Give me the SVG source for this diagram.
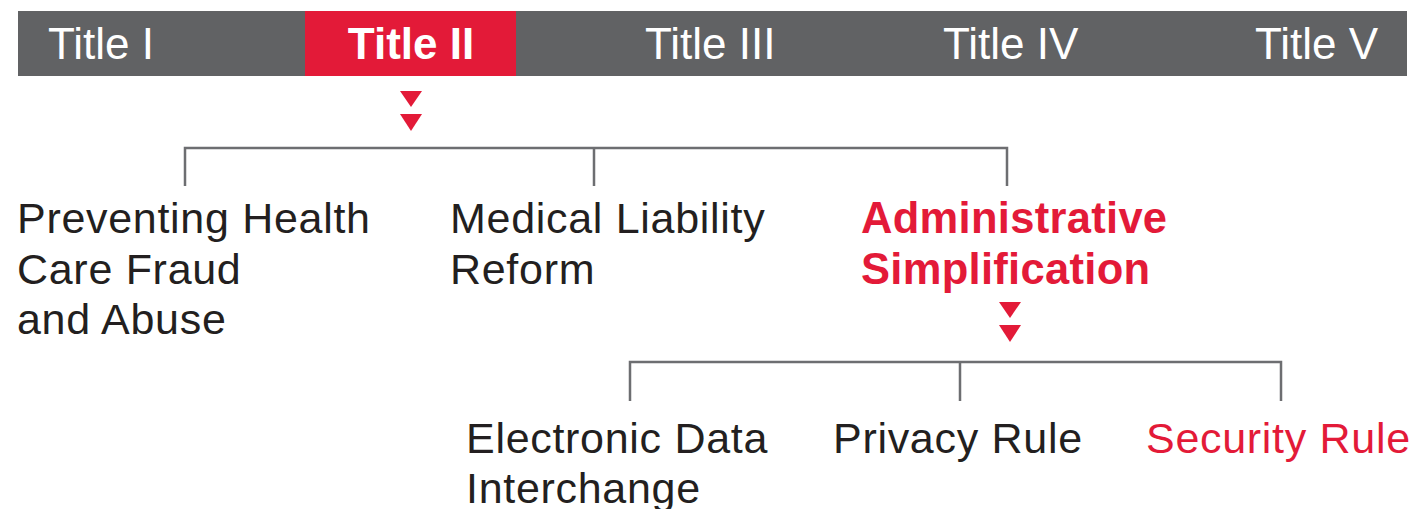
<svg xmlns="http://www.w3.org/2000/svg" width="1413" height="509" viewBox="0 0 1413 509">
<style>
.t{font-family:"Liberation Sans",Arial,sans-serif;font-size:44px;fill:#ffffff}
.tb{font-weight:bold}
.n{font-family:"Liberation Sans",Arial,sans-serif;font-size:43px;fill:#231f20;letter-spacing:0.7px}
.r{fill:#e31a38}
.hb{font-weight:bold;font-size:43.5px;letter-spacing:0.3px}
.c{fill:none;stroke:#6d6e71;stroke-width:2.5}
.tri{fill:#e31a38}
</style>
<rect x="0" y="0" width="1413" height="509" fill="#ffffff"/>
<g id="title-bar">
  <rect x="18" y="11" width="1389" height="65" fill="#616264"/>
  <rect x="305" y="11" width="211" height="65" fill="#e31a38"/>
</g>
<g id="title-1"><text class="t" x="48" y="59">Title I</text></g>
<g id="title-2"><text class="t tb" x="411" y="59" text-anchor="middle">Title II</text></g>
<g id="title-3"><text class="t" x="645" y="59">Title III</text></g>
<g id="title-4"><text class="t" x="943" y="59">Title IV</text></g>
<g id="title-5"><text class="t" x="1255" y="59">Title V</text></g>
<g id="connectors">
  <polygon class="tri" points="400,91 422,91 411,107"/>
  <polygon class="tri" points="400,114 422,114 411,131"/>
  <path class="c" d="M185,186 V148 H1007 V186 M594,148 V186"/>
  <polygon class="tri" points="999,302 1021,302 1010,318"/>
  <polygon class="tri" points="999,325 1021,325 1010,342"/>
  <path class="c" d="M630,401 V362 H1281 V401 M960,362 V401"/>
</g>
<g id="preventing-fraud">
  <text class="n" x="17" y="233">Preventing Health</text>
  <text class="n" x="17" y="284">Care Fraud</text>
  <text class="n" x="17" y="334">and Abuse</text>
</g>
<g id="medical-liability">
  <text class="n" x="450" y="233">Medical Liability</text>
  <text class="n" x="450" y="284">Reform</text>
</g>
<g id="admin-simplification">
  <text class="n r hb" x="861" y="233">Administrative</text>
  <text class="n r hb" x="861" y="284">Simplification</text>
</g>
<g id="edi">
  <text class="n" x="466" y="453">Electronic Data</text>
  <text class="n" x="466" y="503">Interchange</text>
</g>
<g id="privacy-rule"><text class="n" x="833" y="453">Privacy Rule</text></g>
<g id="security-rule"><text class="n r" x="1146" y="453">Security Rule</text></g>
</svg>
